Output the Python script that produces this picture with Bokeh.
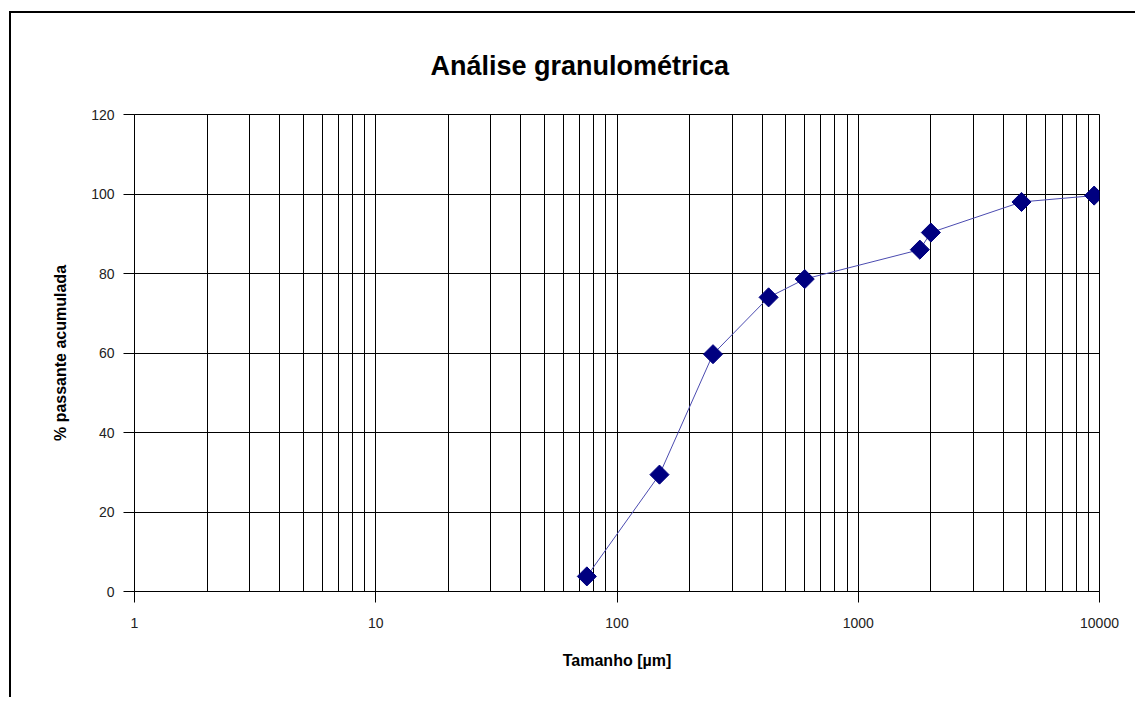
import math
from bokeh.plotting import figure
from bokeh.models import Range1d, FixedTicker
from bokeh.embed import file_html
from bokeh.resources import INLINE

# Data
size_um = [75, 150, 250, 425, 600, 1800, 2000, 4750, 9500]
passing_pct = [3.8, 29.4, 59.7, 74.0, 78.6, 86.0, 90.3, 98.0, 99.6]

x_major_ticks = [1, 10, 100, 1000, 10000]
x_major_labels = ["1", "10", "100", "1000", "10000"]
y_ticks = [0, 20, 40, 60, 80, 100, 120]

title_text = "Análise granulométrica"
x_label = "Tamanho [µm]"
y_label = "% passante acumulada"

FONT = "Liberation Sans"

p = figure(width=1126, height=686, x_axis_type="log",
           x_range=Range1d(1, 10000), y_range=Range1d(0, 120),
           output_backend="svg", toolbar_location=None,
           min_border_left=123, min_border_right=38,
           min_border_top=101, min_border_bottom=108)
p.styles = {"border-left": "2px solid black", "border-top": "2px solid black",
            "margin-left": "9px", "margin-top": "11px"}

p.background_fill_color = "white"
p.border_fill_color = "white"
p.outline_line_color = "black"
p.outline_line_width = 1

# title
p.title.text = title_text
p.title.align = "left"
p.title.offset = 296
p.title.standoff = 68
p.title.text_font = FONT
p.title.text_font_size = "27px"
p.title.text_font_style = "bold"
p.title.text_color = "black"

# grid
minor = [m * 10 ** k for k in range(0, 4) for m in range(1, 10)] + [10000]
p.xgrid.ticker = FixedTicker(ticks=minor)
p.xgrid.grid_line_color = "black"
p.xgrid.grid_line_width = 1
p.ygrid.ticker = FixedTicker(ticks=y_ticks)
p.ygrid.grid_line_color = "black"
p.ygrid.grid_line_width = 1

# axes
p.xaxis.ticker = FixedTicker(ticks=x_major_ticks)
p.xaxis.major_label_overrides = {t: l for t, l in zip(x_major_ticks, x_major_labels)}
p.yaxis.ticker = FixedTicker(ticks=y_ticks)
for ax in (p.xaxis, p.yaxis):
    ax.axis_line_color = "black"
    ax.major_tick_line_color = "black"
    ax.major_tick_out = 11
    ax.major_tick_in = 0
    ax.minor_tick_line_color = None
    ax.major_label_text_font = FONT
    ax.major_label_text_font_size = "14px"
    ax.major_label_text_color = "#222222"
    ax.axis_label_text_font = FONT
    ax.axis_label_text_font_size = "16px"
    ax.axis_label_text_font_style = "bold"
    ax.axis_label_text_color = "black"
p.xaxis.major_label_standoff = 15
p.yaxis.major_label_standoff = 9
p.xaxis.axis_label = x_label
p.yaxis.axis_label = y_label
p.xaxis.axis_label_standoff = 21
p.yaxis.axis_label_standoff = 19

# series
p.line(size_um, passing_pct, line_color="#4b4bb0", line_width=1)
p.scatter(size_um, passing_pct, marker="square", angle=math.pi / 4, size=13.5,
          fill_color="#000080", line_color="#000080")

open("out.html", "w").write(file_html(p, INLINE))
